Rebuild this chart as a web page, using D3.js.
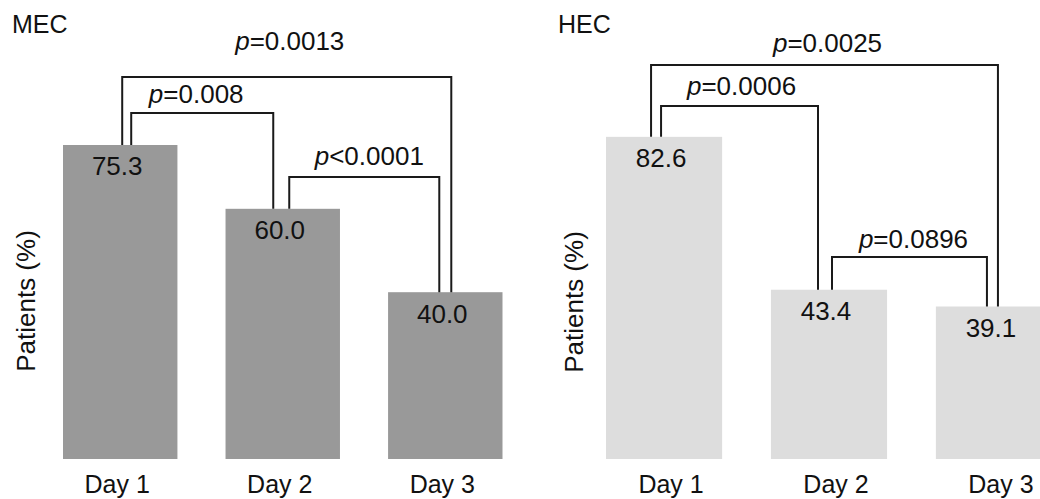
<!DOCTYPE html>
<html>
<head>
<meta charset="utf-8">
<script src="https://cdn.jsdelivr.net/npm/d3@7"></script>
<style>
  html, body { margin: 0; padding: 0; background: #fff; }
  svg { display: block; font-family: "Liberation Sans", Arial, Helvetica, sans-serif; }
</style>
</head>
<body>
<svg id="chart" width="1040" height="499"></svg>
<script>
// ---- Data ----
const categories = ["Day 1", "Day 2", "Day 3"];
const panelTitles = ["MEC", "HEC"];
const mecValues = [75.3, 60.0, 40.0];
const hecValues = [82.6, 43.4, 39.1];
const valueLabelsMEC = ["75.3", "60.0", "40.0"];
const valueLabelsHEC = ["82.6", "43.4", "39.1"];
const yLabel = "Patients (%)";
// comparisons: [from index, to index, operator, p-value text]
const mecComparisons = [[0, 2, "=", "0.0013"], [0, 1, "=", "0.008"], [1, 2, "<", "0.0001"]];
const hecComparisons = [[0, 2, "=", "0.0025"], [0, 1, "=", "0.0006"], [1, 2, "=", "0.0896"]];

// ---- Layout (pixel styling only) ----
const panels = [
  {
    title: panelTitles[0], values: mecValues, labels: valueLabelsMEC, comps: mecComparisons,
    xRange: [63, 502.5], yRange: [459, 42], color: "#999999",
    titleX: 12, yLabelX: 35, yLabelY: 301, valDx: -3, tickDx: -3,
    // bracket top y, leg offsets from band centre, label dx, label gap above
    brackets: [
      { top: 77, dl: 2, dr: 6, ldx: 3, gap: 27 },
      { top: 113, dl: 11, dr: -9.5, ldx: -6, gap: 10 },
      { top: 177, dl: 6.5, dr: -6, ldx: 5, gap: 12 }
    ]
  },
  {
    title: panelTitles[1], values: hecValues, labels: valueLabelsHEC, comps: hecComparisons,
    xRange: [606, 1052], yRange: [459, 69], color: "#dddddd",
    titleX: 558, yLabelX: 583, yLabelY: 302, valDx: -3, tickDx: 7,
    brackets: [
      { top: 65, dl: -13, dr: 4, ldx: 3, gap: 13 },
      { top: 106, dl: -3, dr: -11, ldx: 2, gap: 11 },
      { top: 257, dl: 3, dr: -7, ldx: 4, gap: 9 }
    ]
  }
];

const svg = d3.select("#chart");
const ink = "#1a1a1a";

panels.forEach(p => {
  const x = d3.scaleBand().domain(categories).range(p.xRange).paddingInner(0.296).paddingOuter(0);
  const y = d3.scaleLinear().domain([0, 100]).range(p.yRange);
  const g = svg.append("g");
  const cx = i => x(categories[i]) + x.bandwidth() / 2;

  // title
  g.append("text").attr("x", p.titleX).attr("y", 33)
    .attr("font-size", 25).attr("fill", "#111").text(p.title);

  // y label
  g.append("text")
    .attr("transform", `translate(${p.yLabelX},${p.yLabelY}) rotate(-90)`)
    .attr("text-anchor", "middle").attr("font-size", 26).attr("fill", "#111")
    .text(yLabel);

  // bars
  g.selectAll("rect.bar").data(p.values).enter().append("rect")
    .attr("class", "bar")
    .attr("x", (d, i) => x(categories[i]))
    .attr("y", d => y(d))
    .attr("width", x.bandwidth())
    .attr("height", d => y(0) - y(d))
    .attr("fill", p.color);

  // value labels
  g.selectAll("text.val").data(p.values).enter().append("text")
    .attr("class", "val")
    .attr("x", (d, i) => cx(i) + p.valDx)
    .attr("y", d => y(d) + 30.5)
    .attr("text-anchor", "middle").attr("font-size", 26).attr("fill", "#111")
    .text((d, i) => p.labels[i]);

  // x axis (labels only)
  const ax = g.append("g").attr("transform", `translate(0,${y(0)})`)
    .call(d3.axisBottom(x).tickSize(0).tickPadding(0));
  ax.select(".domain").remove();
  ax.selectAll("text")
    .attr("font-size", 25).attr("fill", "#111")
    .attr("font-family", "Liberation Sans, Arial, sans-serif")
    .attr("dy", null).attr("y", 34).attr("dx", p.tickDx);

  // brackets
  p.comps.forEach((c, k) => {
    const b = p.brackets[k];
    const x1 = cx(c[0]) + b.dl, x2 = cx(c[1]) + b.dr;
    const y1 = y(p.values[c[0]]), y2 = y(p.values[c[1]]);
    g.append("path")
      .attr("d", `M${x1},${y1}V${b.top}H${x2}V${y2}`)
      .attr("fill", "none").attr("stroke", ink).attr("stroke-width", 2);
    const t = g.append("text")
      .attr("x", (x1 + x2) / 2 + b.ldx).attr("y", b.top - b.gap)
      .attr("text-anchor", "middle").attr("font-size", 26).attr("fill", "#111");
    t.append("tspan").attr("font-style", "italic").text("p");
    t.append("tspan").text(c[2] + c[3]);
  });
});
</script>
</body>
</html>
